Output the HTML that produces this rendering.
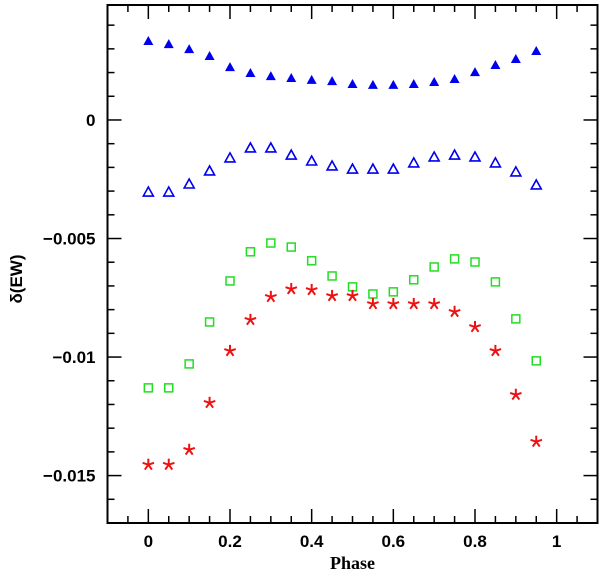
<!DOCTYPE html>
<html><head><meta charset="utf-8"><style>
html,body{margin:0;padding:0;background:#fff;}
svg{display:block;font-family:"Liberation Sans",sans-serif;}
</style></head><body>
<svg id="chart" width="600" height="573"></svg>
<script>
const phases=[0,0.05,0.1,0.15,0.2,0.25,0.3,0.35,0.4,0.45,0.5,0.55,0.6,0.65,0.7,0.75,0.8,0.85,0.9,0.95];
const filledTri=[0.00333,0.00320,0.00299,0.00270,0.00223,0.00198,0.00185,0.00177,0.00169,0.00164,0.00152,0.00148,0.00148,0.00152,0.00160,0.00173,0.00202,0.00232,0.00257,0.00291];
const openTri=[-0.00304,-0.00304,-0.00270,-0.00215,-0.00160,-0.00118,-0.00118,-0.00148,-0.00173,-0.00194,-0.00207,-0.00207,-0.00207,-0.00181,-0.00156,-0.00148,-0.00156,-0.00181,-0.00219,-0.00274];
const squares=[-0.0113,-0.0113,-0.01029,-0.00852,-0.00679,-0.00556,-0.00519,-0.00536,-0.00594,-0.00658,-0.00704,-0.00734,-0.00725,-0.00674,-0.00620,-0.00586,-0.00599,-0.00683,-0.00839,-0.01016];
const stars=[-0.01454,-0.01454,-0.01391,-0.01193,-0.00974,-0.00843,-0.00746,-0.00713,-0.00717,-0.00742,-0.00742,-0.00776,-0.00776,-0.00776,-0.00776,-0.00809,-0.00873,-0.00974,-0.01159,-0.01357];
const xTicks=[0,0.2,0.4,0.6,0.8,1];
const xTickLabels=["0","0.2","0.4","0.6","0.8","1"];
const yTicks=[0,-0.005,-0.01,-0.015];
const yTickLabels=["0","\u22120.005","\u22120.01","\u22120.015"];

const L=107.5,R=597.5,T=5,B=523;
const xmin=-0.1,xmax=1.1,ymin=-0.017,ymax=0.00485;
const X=v=>L+(v-xmin)/(xmax-xmin)*(R-L);
const Y=v=>B-(v-ymin)/(ymax-ymin)*(B-T);
const svg=document.getElementById('chart');
const NS='http://www.w3.org/2000/svg';
function mk(tag,attrs,parent){const e=document.createElementNS(NS,tag);for(const k in attrs)e.setAttribute(k,attrs[k]);(parent||svg).appendChild(e);return e;}

const frame=mk('rect',{x:L,y:T,width:R-L,height:B-T,fill:'none',stroke:'#000','stroke-width':2});



const ticks=mk('g',{stroke:'#000','stroke-width':1.5});


for(let i=-2;i<=22;i++){const v=i*0.05;if(v<xmin-1e-9||v>xmax+1e-9)continue;const x=X(v);const major=Math.abs(v*5-Math.round(v*5))<1e-6;const len=major?14:7;
 mk('line',{x1:x,y1:B,x2:x,y2:B-len},ticks);mk('line',{x1:x,y1:T,x2:x,y2:T+len},ticks);}
for(let i=-17;i<=4;i++){const v=i*0.001;const y=Y(v);const major=i%5===0;const len=major?14:7;
 mk('line',{x1:L,y1:y,x2:L+len,y2:y},ticks);mk('line',{x1:R,y1:y,x2:R-len,y2:y},ticks);}

xTicks.forEach((v,i)=>{const t=mk('text',{x:X(v),y:B+24,'text-anchor':'middle','font-size':17,'font-weight':'bold'});t.textContent=xTickLabels[i];
 
 });
yTicks.forEach((v,i)=>{const t=mk('text',{x:L-12,y:Y(v)+6,'text-anchor':'end','font-size':17,'font-weight':'bold'});t.textContent=yTickLabels[i];
 
 });
const xt=mk('text',{x:X(0.5),y:569,'text-anchor':'middle','font-size':18,'font-weight':'bold','font-family':'Liberation Serif,serif'});xt.textContent='Phase';


const yt=mk('text',{x:0,y:0,'text-anchor':'middle','font-size':17,'font-weight':'bold',transform:'translate(22,'+((T+B)/2+15)+') rotate(-90)'});yt.textContent='\u03b4(EW)';



const gF=mk('g',{fill:'#0000ee'});


phases.forEach((p,i)=>{const x=X(p),y=Y(filledTri[i]);const m=mk('polygon',{points:`${x-5},${y+4} ${x+5},${y+4} ${x},${y-5}`},gF);
 
 });
const gO=mk('g',{fill:'none',stroke:'#0000ee','stroke-width':1.6});


phases.forEach((p,i)=>{const x=X(p),y=Y(openTri[i]);const m=mk('polygon',{points:`${x-5},${y+4} ${x+5},${y+4} ${x},${y-5}`},gO);
 
 });
const gS=mk('g',{fill:'none',stroke:'#22dd22','stroke-width':1.5});


phases.forEach((p,i)=>{const x=X(p),y=Y(squares[i]);const m=mk('rect',{x:x-4,y:y-4,width:8,height:8},gS);
 
 });
const gA=mk('g',{stroke:'#ee1111','stroke-width':2});


phases.forEach((p,i)=>{const x=X(p),y=Y(stars[i]);const g=mk('g',{},gA);
 
 
 for(let k=0;k<5;k++){const a=-Math.PI/2+k*2*Math.PI/5;mk('line',{x1:x,y1:y,x2:x+6*Math.cos(a),y2:y+6*Math.sin(a)},g);}});
</script>
</body></html>
